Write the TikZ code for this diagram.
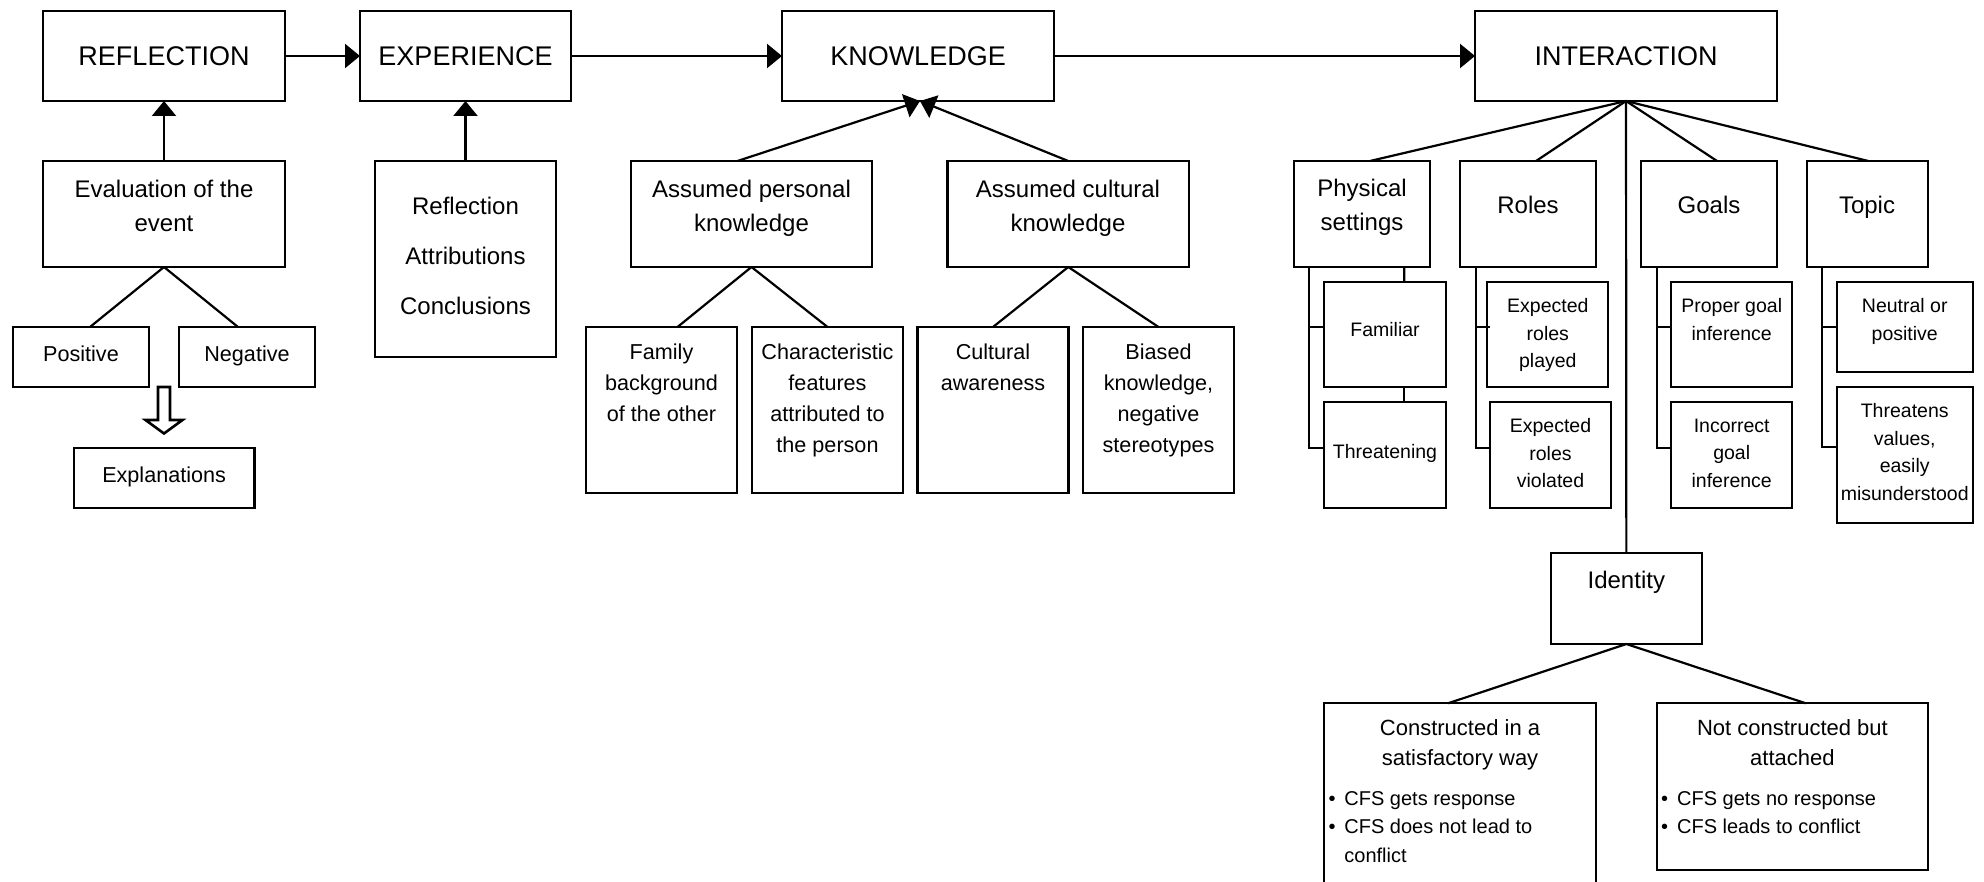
\documentclass[tikz,border=0pt]{standalone}
\usepackage{fontspec}
\setmainfont{Liberation Sans}
\usetikzlibrary{arrows.meta,calc}
\newcommand\szA{\fontsize{13.5}{16}\selectfont}
\newcommand\szB{\fontsize{12}{17}\selectfont}
\newcommand\szR{\fontsize{12}{25}\selectfont}
\newcommand\szC{\fontsize{10.8}{15.5}\selectfont}
\newcommand\szK{\fontsize{11}{15}\selectfont}
\newcommand\szD{\fontsize{9.75}{13.75}\selectfont}
\newcommand\szG{\fontsize{10}{14.25}\selectfont}
\newcommand\mkbox[5]{\node[box, minimum width={(#4-#2)*0.5pt}, minimum height={(#5-#3)*0.5pt}] (#1) at ({(#2+#4)/2},{(#3+#5)/2}) {};}
\newcommand\mktxt[5]{\node[txt, font=#2] (#1) at (#3,#4) {#5};}
\begin{document}
\begin{tikzpicture}[x=0.5pt,y=-0.5pt,
  box/.style={draw, rectangle, line width=1.1pt, inner sep=0pt, outer sep=0pt},
  txt/.style={anchor=north, align=center, inner sep=0pt, outer sep=0pt},
  toptxt/.style={font=\szA, inner sep=0pt, outer sep=0pt},
  ln/.style={line width=1.1pt},
  arr/.style={line width=1.1pt, -{Triangle[length=7.5pt,width=12pt]}}]
\path[use as bounding box] (0,0) rectangle (1984,882);
\fill[white] (0,0) rectangle (1984,882);
\clip (0,0) rectangle (1984,882);

% ---- boxes ----
\mkbox{refl}{43}{11}{285}{101}
\mkbox{exp}{360}{11}{571}{101}
\mkbox{know}{782}{11}{1054}{101}
\mkbox{inter}{1475}{11}{1777}{101}
\mkbox{eval}{43}{161}{285}{267}
\mkbox{rac}{375}{161}{556}{357}
\mkbox{pers}{631}{161}{872}{267}
\mkbox{cult}{947.5}{161}{1189}{267}
\mkbox{phys}{1294}{161}{1430}{267}
\mkbox{roles}{1460}{161}{1596}{267}
\mkbox{goals}{1641}{161}{1777}{267}
\mkbox{topic}{1806.7}{161}{1927.7}{267}
\mkbox{pos}{13}{327}{149}{387}
\mkbox{neg}{179}{327}{315}{387}
\mkbox{expl}{73.7}{447.7}{254.5}{507.7}
\mkbox{fam}{586}{327}{737}{493}
\mkbox{char}{752}{327}{903}{493}
\mkbox{cawa}{917.5}{327}{1068.5}{493}
\mkbox{bias}{1083}{327}{1234}{493}
\mkbox{famil}{1324.3}{281.7}{1445.7}{387.3}
\mkbox{threat}{1324.3}{402.3}{1445.7}{508}
\mkbox{erp}{1487.3}{281.7}{1608.3}{387.3}
\mkbox{erv}{1490}{402.3}{1611}{508}
\mkbox{pgi}{1671}{281.7}{1792.3}{387.3}
\mkbox{igi}{1671}{402.3}{1792.3}{508}
\mkbox{neut}{1836.7}{281.7}{1972.7}{371.7}
\mkbox{thv}{1836.7}{387.3}{1972.7}{522.7}
\mkbox{ident}{1550.7}{553.3}{1702}{644}
\mkbox{cons}{1324}{703.3}{1596}{900}
\mkbox{notc}{1656.7}{703.3}{1928}{870}

% ---- texts ----
\node[toptxt] (t-refl) at (refl) {REFLECTION};
\node[toptxt] (t-exp) at (exp) {EXPERIENCE};
\node[toptxt] (t-know) at (know) {KNOWLEDGE};
\node[toptxt] (t-inter) at (inter) {INTERACTION};
\mktxt{t-eval}{\szB}{164}{180.5}{Evaluation of the\\event}
\mktxt{t-rac}{\szR}{465.5}{197.5}{Reflection\\Attributions\\Conclusions}
\mktxt{t-pers}{\szB}{751.5}{180.5}{Assumed personal\\knowledge}
\mktxt{t-cult}{\szB}{1068}{180.5}{Assumed cultural\\knowledge}
\mktxt{t-phys}{\szB}{1362}{179}{Physical\\settings}
\mktxt{t-roles}{\szB}{1528}{195.8}{Roles}
\mktxt{t-goals}{\szB}{1709}{195.8}{Goals}
\mktxt{t-topic}{\szB}{1867}{195.8}{Topic}
\mktxt{t-ident}{\szB}{1626.3}{571.5}{Identity}
\mktxt{t-pos}{\szC}{81}{346}{Positive}
\mktxt{t-neg}{\szC}{247}{346}{Negative}
\mktxt{t-expl}{\szC}{164.1}{466.5}{Explanations}
\mktxt{t-fam}{\szC}{661.5}{344.2}{Family\\background\\of the other}
\mktxt{t-char}{\szC}{827.5}{344.2}{Characteristic\\features\\attributed to\\the person}
\mktxt{t-cawa}{\szC}{993}{344.2}{Cultural\\awareness}
\mktxt{t-bias}{\szC}{1158.5}{344.2}{Biased\\knowledge,\\negative\\stereotypes}
\mktxt{t-famil}{\szD}{1385}{322.5}{Familiar}
\mktxt{t-threat}{\szD}{1385}{444}{Threatening}
\mktxt{t-erp}{\szD}{1547.8}{298.5}{Expected\\roles\\played}
\mktxt{t-erv}{\szD}{1550.5}{418.5}{Expected\\roles\\violated}
\mktxt{t-pgi}{\szD}{1731.7}{298.5}{Proper goal\\inference}
\mktxt{t-igi}{\szD}{1731.7}{419}{Incorrect\\goal\\inference}
\mktxt{t-neut}{\szD}{1904.7}{298.5}{Neutral or\\positive}
\mktxt{t-thv}{\szD}{1904.7}{403.5}{Threatens\\values,\\easily\\misunderstood}
\mktxt{t-cons}{\szK}{1460}{720}{Constructed in a\\satisfactory way}
\mktxt{t-notc}{\szK}{1792.4}{720}{Not constructed but\\attached}

% bullets
\node[anchor=base, font=\szG, inner sep=0pt] (cb1) at (1332,805) {•};
\node[anchor=base, font=\szG, inner sep=0pt] (cb2) at (1332,833.5) {•};
\node[anchor=north west, align=left, font=\szG, inner sep=0pt] (cbl) at (1344,790.7) {CFS gets response\\CFS does not lead to\\conflict};
\node[anchor=base, font=\szG, inner sep=0pt] (nb1) at (1664.7,805) {•};
\node[anchor=base, font=\szG, inner sep=0pt] (nb2) at (1664.7,833.5) {•};
\node[anchor=north west, align=left, font=\szG, inner sep=0pt] (nbl) at (1676.7,790.7) {CFS gets no response\\CFS leads to conflict};

% ---- connectors ----
\draw[arr] (refl.east) -- (exp.west);
\draw[arr] (exp.east) -- (know.west);
\draw[arr] (know.east) -- (inter.west);
\draw[arr] (eval.north) -- (refl.south);
\draw[arr] (rac.north) -- (exp.south);
\coordinate (ktip) at ($(know.south)+(2,0)$);
\draw[arr] ($(pers.north)+(-14,0)$) -- (ktip);
\draw[arr] (cult.north) -- (ktip);

\draw[ln] (eval.south) -- ($(pos.north)+(9,0)$);
\draw[ln] (eval.south) -- ($(neg.north)+(-9,0)$);
\draw[ln] (pers.south) -- ($(fam.north)+(16,0)$);
\draw[ln] (pers.south) -- (char.north);
\draw[ln] (cult.south) -- (cawa.north);
\draw[ln] (cult.south) -- (bias.north);

\draw[ln] (inter.south) -- ($(phys.north)+(8,0)$);
\draw[ln] (inter.south) -- ($(roles.north)+(8,0)$);
\draw[ln] (inter.south) -- ($(goals.north)+(8,0)$);
\draw[ln] (inter.south) -- ($(topic.north)+(1,0)$);
\draw[ln] (inter.south) -- (ident.north);
\draw[ln] (ident.south) -- ($(cons.north)+(-12,0)$);
\draw[ln] (ident.south) -- ($(notc.north)+(13.4,0)$);

% brackets
\draw[ln] ($(phys.south west)+(15.3,0)$) |- ($(threat.west)+(0,-7.2)$);
\draw[ln] ($(famil.west)+(0,-7.2)$) -- ++(-15,0);
\draw[ln] ($(phys.south west)+(110.3,0)$) -- ($(famil.north west)+(80,0)$);
\draw[ln] ($(famil.south west)+(80,0)$) -- ($(threat.north west)+(80,0)$);
\draw[ln] ($(roles.south west)+(15.7,0)$) |- ($(erv.west)+(0,-7.2)$);
\draw[ln] ($(erp.west)+(2.7,-7.2)$) -- ++(-14.3,0);
\draw[ln] ($(goals.south west)+(15.7,0)$) |- ($(igi.west)+(0,-7.2)$);
\draw[ln] ($(pgi.west)+(0,-7.2)$) -- ++(-14.3,0);
\draw[ln] ($(topic.south west)+(15.6,0)$) |- ($(thv.west)+(0,-7.7)$);
\draw[ln] (neut.west) -- ++(-14.4,0);

% hollow arrow
\draw[line width=1.3pt, line join=miter] ($(eval.south)+(-6,120)$) -- ++(0,33) -- ++(-12.5,0) -- ++(18.5,13.5) -- ++(18.5,-13.5) -- ++(-12.5,0) -- ++(0,-33) -- cycle;
\end{tikzpicture}
\end{document}
